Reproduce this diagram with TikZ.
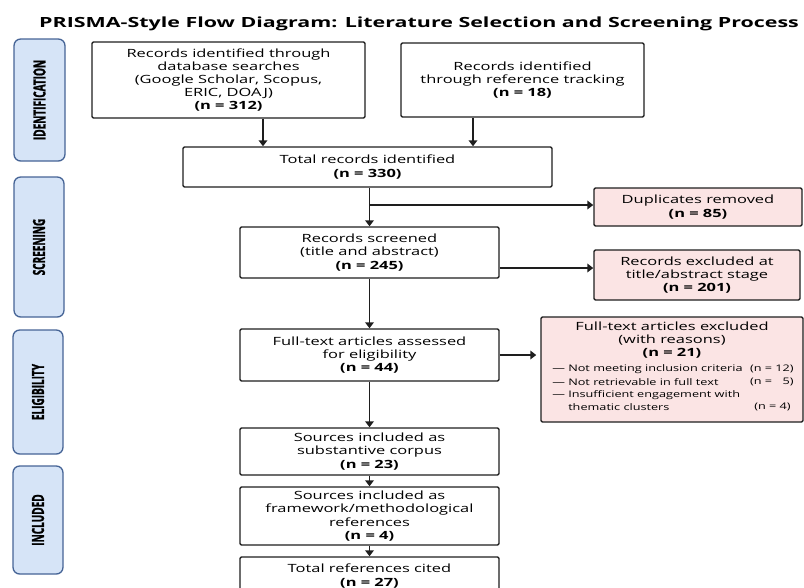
\documentclass[tikz,border=0pt]{standalone}
\usepackage{fontspec}
\setmainfont{Open Sans}[FakeStretch=1.45]
\newfontfamily\condfont{Open Sans}[FakeStretch=0.6,FakeBold=1.2]
\newfontfamily\titlefont{Open Sans}[FakeStretch=1.53]
\newfontfamily\listfont{Open Sans}[FakeStretch=1.4]
\usetikzlibrary{arrows.meta,calc}
\definecolor{pinkfill}{RGB}{251,228,228}
\definecolor{sidefill}{RGB}{214,228,247}
\definecolor{sideborder}{RGB}{70,100,150}
\definecolor{boxborder}{RGB}{30,30,30}
\begin{document}
\begin{tikzpicture}[x=0.75pt,y=-0.75pt,
  box/.style={draw=boxborder, line width=1.1pt, fill=white, rounded corners=1pt, align=center,
    font=\fontsize{8.5}{9.9}\selectfont, inner sep=0pt},
  excl/.style={box, fill=pinkfill},
  side/.style={draw=sideborder, fill=sidefill, line width=1pt, rounded corners=5pt, inner sep=0pt},
  sidetxt/.style={rotate=90, font=\condfont\bfseries\fontsize{12.5}{12.5}\selectfont, inner sep=0pt},
  listtxt/.style={font=\listfont\fontsize{6.8}{8}\selectfont, inner sep=0pt},
  arr/.style={draw=boxborder, line width=1.3pt, -{Triangle[length=4.5pt,width=6.5pt]}},
  ln/.style={draw=boxborder, line width=1.3pt}]
\useasboundingbox (0,0) rectangle (804,587);

% title
\node[font=\titlefont\bfseries\fontsize{10.5}{12}\selectfont, inner sep=0pt] (title) at (419,24)
  {PRISMA-Style Flow Diagram: Literature Selection and Screening Process};

% side labels
\node[side, minimum width=38.25pt, minimum height=91.5pt] (S1) at (39.5,100) {};
\node[sidetxt] (S1t) at (S1.center) {IDENTIFICATION};
\node[side, minimum width=37.5pt, minimum height=105pt] (S2) at (39,247) {};
\node[sidetxt] (S2t) at (S2.center) {SCREENING};
\node[side, minimum width=37.5pt, minimum height=93pt] (S3) at (38,392) {};
\node[sidetxt] (S3t) at (S3.center) {ELIGIBILITY};
\node[side, minimum width=37.5pt, minimum height=81pt] (S4) at (38,520) {};
\node[sidetxt] (S4t) at (S4.center) {INCLUDED};

% main boxes
\node[box, minimum width=204.75pt, minimum height=57pt] (B1) at (228.5,80)
  {Records identified through\\database searches\\(Google Scholar, Scopus,\\ERIC, DOAJ)\\\textbf{(n = 312)}};
\node[box, minimum width=182.25pt, minimum height=55.5pt] (B2) at (522.5,80)
  {Records identified\\through reference tracking\\\textbf{(n = 18)}};
\node[box, minimum width=276.75pt, minimum height=30pt] (B3) at (367.5,167)
  {Total records identified\\\textbf{(n = 330)}};
\node[box, minimum width=194.25pt, minimum height=38.25pt] (B4) at (369.5,252.5)
  {Records screened\\(title and abstract)\\\textbf{(n = 245)}};
\node[box, minimum width=194.25pt, minimum height=39pt] (B5) at (369.5,355)
  {Full-text articles assessed\\for eligibility\\\textbf{(n = 44)}};
\node[box, minimum width=194.25pt, minimum height=35.25pt] (B6) at (369.5,451.5)
  {Sources included as\\substantive corpus\\\textbf{(n = 23)}};
\node[box, minimum width=194.25pt, minimum height=43.5pt] (B7) at (369.5,516)
  {Sources included as\\framework/methodological\\references\\\textbf{(n = 4)}};
\node[box, minimum width=194.25pt, minimum height=28.5pt] (B8) at (369.5,576)
  {Total references cited\\\textbf{(n = 27)}};

% exclusion boxes
\node[excl, minimum width=156pt, minimum height=28.5pt] (D1) at (698,207)
  {Duplicates removed\\\textbf{(n = 85)}};
\node[excl, minimum width=154.5pt, minimum height=37.5pt] (D2) at (697,275)
  {Records excluded at\\title/abstract stage\\\textbf{(n = 201)}};
\node[excl, minimum width=196.5pt, minimum height=78.75pt] (D3) at (672,369.5) {};
\node[align=center, font=\fontsize{8.5}{9.9}\selectfont, inner sep=0pt] (D3h) at (672,340)
  {Full-text articles excluded\\(with reasons)\\\textbf{(n = 21)}};
\node[listtxt, anchor=west] (L1) at (552,369) {— Not meeting inclusion criteria};
\node[listtxt, anchor=east] (N1) at (794,369) {(n = 12)};
\node[listtxt, anchor=west] (L2) at (552,382) {— Not retrievable in full text};
\node[listtxt, anchor=east] (N2) at (794,382) {(n = \phantom{1}5)};
\node[listtxt, anchor=west] (L3) at (552,395) {— Insufficient engagement with};
\node[listtxt, anchor=west] (L4) at (552,407) {\phantom{— }thematic clusters};
\node[listtxt, anchor=east] (N4) at (791,407) {(n = 4)};

% connectors
\coordinate (a1) at (263,0);
\coordinate (a2) at (473,0);
\coordinate (br) at (0,205);
\coordinate (c2) at (0,268);
\draw[arr] (B1.south -| a1) -- (B3.north -| a1);
\draw[arr] (B2.south -| a2) -- (B3.north -| a2);
\draw[arr] (B4.north |- B3.south) -- (B4.north);
\draw[arr] (B4.north |- br) -- (D1.west |- br);
\draw[arr] (B4.east |- c2) -- (D2.west |- c2);
\draw[arr] (B4.south) -- (B5.north);
\draw[arr] (B5.east) -- ($(D3.west |- B5.east)+(-4,0)$);
\draw[arr] (B5.south) -- (B6.north);
\draw[arr] (B6.south) -- (B7.north);
\draw[arr] (B7.south) -- (B8.north);
\end{tikzpicture}
\end{document}
